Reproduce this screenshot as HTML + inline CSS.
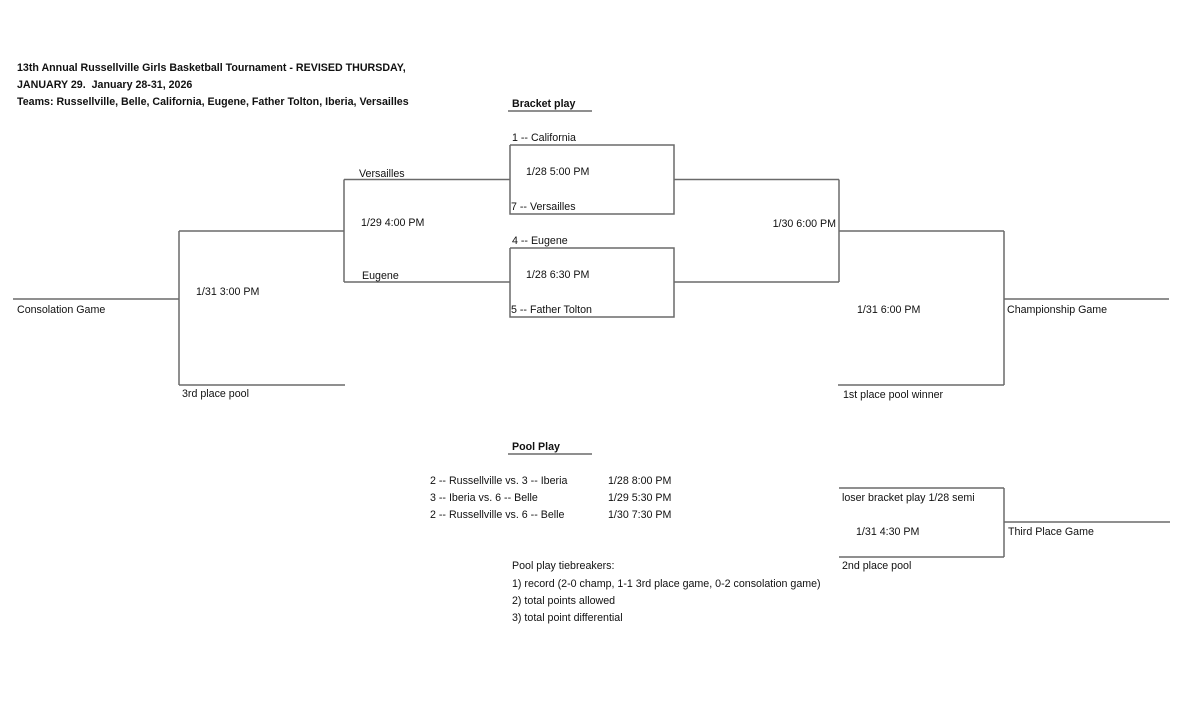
<!DOCTYPE html>
<html>
<head>
<meta charset="utf-8">
<style>
html,body{margin:0;padding:0;background:#fff;}
svg{display:block;}
text{font-family:"Liberation Sans",Arial,sans-serif;font-size:10.67px;fill:#111;}
.b{font-weight:bold;}
line,polyline{stroke:#6a6a6a;stroke-width:1.5;fill:none;}
</style>
</head>
<body>
<svg width="1200" height="722" viewBox="0 0 1200 722" xmlns="http://www.w3.org/2000/svg">
<rect width="1200" height="722" fill="#fff" style="stroke:none"/>

<!-- Title -->
<text class="b" x="17" y="71">13th Annual Russellville Girls Basketball Tournament - REVISED THURSDAY,</text>
<text class="b" x="17" y="88">JANUARY 29.&#160; January 28-31, 2026</text>
<text class="b" x="17" y="105">Teams: Russellville, Belle, California, Eugene, Father Tolton, Iberia, Versailles</text>

<!-- Bracket play header -->
<text class="b" x="512" y="107">Bracket play</text>
<line x1="508" y1="111" x2="592" y2="111"/>

<!-- First-round boxes -->
<polyline points="510,145 674,145 674,214 510,214 510,145"/>
<polyline points="510,248 674,248 674,317 510,317 510,248"/>
<text x="512" y="141">1 -- California</text>
<text x="526" y="175">1/28 5:00 PM</text>
<text x="511" y="210">7 -- Versailles</text>
<text x="512" y="244">4 -- Eugene</text>
<text x="526" y="278">1/28 6:30 PM</text>
<text x="511" y="313">5 -- Father Tolton</text>

<!-- Left: losers bracket -->
<line x1="344" y1="179.5" x2="510" y2="179.5"/>
<line x1="344" y1="282" x2="510" y2="282"/>
<line x1="344" y1="179.5" x2="344" y2="282"/>
<text x="359" y="177">Versailles</text>
<text x="361" y="226">1/29 4:00 PM</text>
<text x="362" y="279">Eugene</text>

<line x1="179" y1="231" x2="344" y2="231"/>
<line x1="179" y1="231" x2="179" y2="385"/>
<line x1="179" y1="385" x2="345" y2="385"/>
<line x1="13" y1="299" x2="179" y2="299"/>
<text x="196" y="295">1/31 3:00 PM</text>
<text x="17" y="313">Consolation Game</text>
<text x="182" y="397">3rd place pool</text>

<!-- Right: winners -->
<line x1="674" y1="179.5" x2="839" y2="179.5"/>
<line x1="674" y1="282" x2="839" y2="282"/>
<line x1="839" y1="179.5" x2="839" y2="282"/>
<text x="836" y="227" text-anchor="end">1/30 6:00 PM</text>

<line x1="839" y1="231" x2="1004" y2="231"/>
<line x1="1004" y1="231" x2="1004" y2="385"/>
<line x1="838" y1="385" x2="1004" y2="385"/>
<line x1="1004" y1="299" x2="1169" y2="299"/>
<text x="857" y="313">1/31 6:00 PM</text>
<text x="1007" y="313">Championship Game</text>
<text x="843" y="398">1st place pool winner</text>

<!-- Pool play -->
<text class="b" x="512" y="450">Pool Play</text>
<line x1="508" y1="454" x2="592" y2="454"/>
<text x="430" y="484">2 -- Russellville vs. 3 -- Iberia</text>
<text x="430" y="501">3 -- Iberia vs. 6 -- Belle</text>
<text x="430" y="518">2 -- Russellville vs. 6 -- Belle</text>
<text x="608" y="484">1/28 8:00 PM</text>
<text x="608" y="501">1/29 5:30 PM</text>
<text x="608" y="518">1/30 7:30 PM</text>

<text x="512" y="569">Pool play tiebreakers:</text>
<text x="512" y="587">1) record (2-0 champ, 1-1 3rd place game, 0-2 consolation game)</text>
<text x="512" y="604">2) total points allowed</text>
<text x="512" y="621">3) total point differential</text>

<!-- Third place game -->
<line x1="839" y1="488" x2="1004" y2="488"/>
<line x1="1004" y1="488" x2="1004" y2="557"/>
<line x1="839" y1="557" x2="1004" y2="557"/>
<line x1="1004" y1="522" x2="1170" y2="522"/>
<text x="842" y="501">loser bracket play 1/28 semi</text>
<text x="856" y="535">1/31 4:30 PM</text>
<text x="1008" y="535">Third Place Game</text>
<text x="842" y="569">2nd place pool</text>
</svg>
</body>
</html>
